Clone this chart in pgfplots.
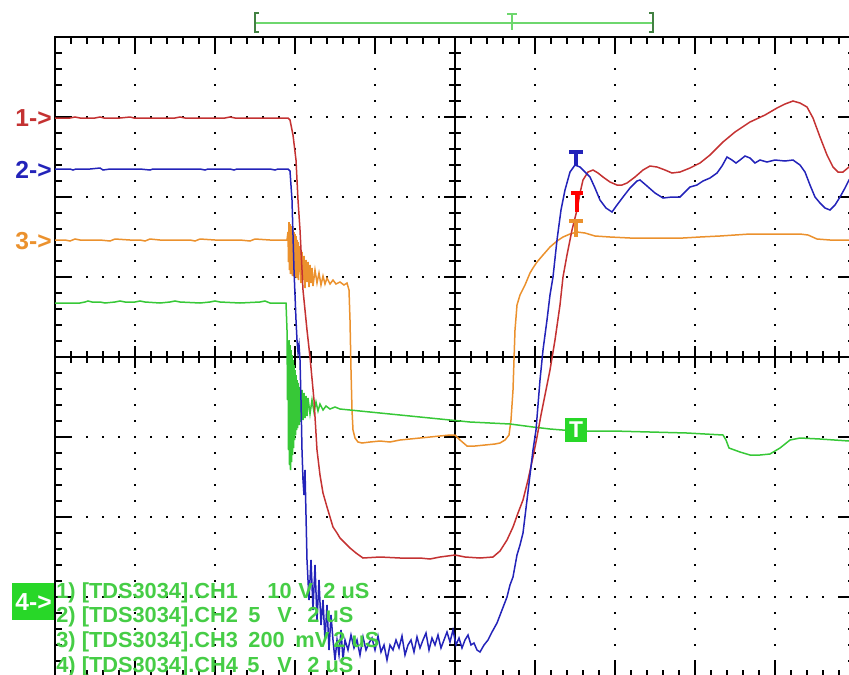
\documentclass[border=0pt]{standalone}
\usepackage{pgfplots}
\pgfplotsset{compat=1.18}
\usepackage{fontspec}
\setmainfont{Liberation Sans}
\definecolor{cRed}{RGB}{196,50,50}
\definecolor{cBlue}{RGB}{35,35,185}
\definecolor{cOrange}{RGB}{235,145,45}
\definecolor{cGreen}{RGB}{55,200,55}
\definecolor{cText}{RGB}{70,205,70}
\definecolor{cBox}{RGB}{40,215,40}
\definecolor{cTrig}{RGB}{110,215,110}
\begin{document}
\begin{tikzpicture}
\useasboundingbox (0,0) rectangle (16.98cm,13.48cm);
\clip (0,0) rectangle (16.98cm,13.48cm);
\begin{scope}[x=0.02cm,y=-0.02cm,yshift=13.48cm]
% grid dots
\foreach \yy in {117,197,277,437,517,597}{
  \foreach \k in {1,...,49}{ \fill ({55+16*\k-1},{\yy-1}) rectangle ++(2,2); } }
\foreach \xx in {135,215,295,375,535,615,695,775}{
  \foreach \k in {1,...,39}{ \fill ({\xx-1},{37+16*\k-1}) rectangle ++(2,2); } }
% border
\draw[line width=0.05cm] (55,37) rectangle (855,677);
% centre lines
\draw[line width=0.045cm] (455,37) -- (455,677);
\draw[line width=0.045cm] (55,357) -- (855,357);
% ticks
\foreach \k in {1,...,49}{
  \pgfmathsetmacro{\L}{ifthenelse(mod(\k,5)==0,16,7)}
  \pgfmathsetmacro{\C}{ifthenelse(mod(\k,5)==0,11,6)}
  \draw[line width=0.04cm] ({55+16*\k},37) -- ++(0,\L);
  \draw[line width=0.04cm] ({55+16*\k},677) -- ++(0,-\L);
  \draw[line width=0.04cm] ({55+16*\k},{357-\C}) -- ++(0,{2*\C});
}
\foreach \k in {1,...,39}{
  \pgfmathsetmacro{\L}{ifthenelse(mod(\k,5)==0,16,7)}
  \pgfmathsetmacro{\C}{ifthenelse(mod(\k,5)==0,11,6)}
  \draw[line width=0.04cm] (55,{37+16*\k}) -- ++(\L,0);
  \draw[line width=0.04cm] (855,{37+16*\k}) -- ++(-\L,0);
  \draw[line width=0.04cm] ({455-\C},{37+16*\k}) -- ++({2*\C},0);
}
\end{scope}
\begin{axis}[at={(1.1cm,-0.06cm)}, anchor=south west, scale only axis,
  width=16cm, height=12.8cm, xmin=55, xmax=855, ymin=37, ymax=677,
  y dir=reverse, hide axis]
% CH3 orange
\addplot[cOrange, line width=0.03cm] coordinates {
(55,240)(65,240)(70,241)(75,239)(80,240)(100,240)(110,241)(115,239)(130,240)(140,240)(145,241)(150,239)(160,240)(190,240)(195,241)(200,239)(215,240)(240,240)(250,241)(255,239)(270,240)(287,240)
(288,232)(288.5,262)(289,222)(289.5,270)(290,224)(290.5,274)(291,226)(291.5,272)(292,228)(292.5,276)(293,230)(293.5,270)(294,232)(294.5,277)(295,234)(295.5,272)(296,236)(296.5,278)(297,240)(297.5,270)(298,242)(298.5,280)(299,246)(299.5,272)(300,250)(301,283)(302,252)(303,280)(304,256)(305,288)(306,260)(307,282)(308,262)(309,287)(310,265)(311,283)(312,268)(313,286)(315,270)(317,283)(319,273)(321,285)(323,276)(325,284)(327,278)(330,284)(333,280)(336,284)(340,282)(344,285)(347,283)
(349,290)(350,320)(351,370)(352,410)(353,430)(355,438)(358,442)(362,443)(370,442)(380,441)(390,442)(400,440)(410,439)(420,438)(430,437)(440,436)(450,435)(455,435)(460,440)(467,446)(475,446)(485,445)(495,444)(500,443)(505,440)(509,435)(511,420)(512,405)(513,390)(514,360)(515,330)(517,305)(520,295)(525,285)(530,273)(533,268)(537,262)(543,255)(550,247)(557,241)(563,237)(570,234)(577,232)(585,233)(595,236)(610,237)(630,238)(650,238)(683,238)(700,237)(720,236)(750,234)(775,234)(800,234)(808,235)(817,239)(830,240)(849,240)(855,240)};
% CH4 green
\addplot[cGreen, line width=0.03cm] coordinates {
(55,303)(80,303)(85,302)(88,301)(92,302)(100,302)(105,303)(115,302)(120,301)(125,302)(135,302)(140,301)(145,302)(160,303)(170,302)(175,301)(180,302)(200,303)(210,302)(215,301)(220,302)(240,303)(260,302)(265,301)(270,303)(286,303)
(287,330)(287.5,400)(288,345)(288.5,450)(289,340)(289.5,465)(290,345)(290.5,470)(291,350)(291.5,462)(292,355)(292.5,455)(293,360)(293.5,448)(294,365)(294.5,440)(295,370)(295.5,435)(296,375)(296.5,430)(297,380)(297.5,428)(298,383)(299,425)(300,387)(301,422)(302,390)(303,420)(304,393)(305,418)(306,396)(307,416)(308,398)(310,414)(312,400)(314,412)(316,402)(318,411)(320,404)(323,410)(326,406)(330,409)(335,407)(340,409)
(350,410)(370,412)(390,414)(410,416)(430,418)(450,420)(470,422)(490,423)(510,424)(533,427)(550,429)(575,431)(613,431)(650,432)(687,433)(723,435)(726,440)(729,448)(740,452)(750,455)(760,455)(770,454)(780,448)(790,440)(800,438)(820,439)(849,441)(855,441)};
% CH1 red
\addplot[cRed, line width=0.03cm] coordinates {
(55,118)(70,118)(75,117)(80,118)(95,118)(100,117)(104,118)(120,118)(130,117)(134,118)(150,118)(175,118)(180,117)(185,118)(200,118)(225,118)(230,117)(235,118)(250,118)(280,118)(288,118)
(290,120)(293,135)(296,160)(298,200)(300,230)(303,290)(307,330)(310,357)(314,400)(317,450)(320,475)(323,493)(327,507)(330,517)(333,527)(337,533)(340,538)(345,543)(350,548)(356,553)(363,558)(380,557)(400,558)(420,558)(430,559)(440,557)(455,555)(465,557)(480,558)(493,557)(500,551)(507,540)(513,527)(518,513)(523,500)(528,480)(533,457)(537,437)(541,415)(545,395)(550,370)(555,340)(560,305)(563,277)(567,255)(572,230)(577,210)(580,193)(583,180)(588,172)(593,170)(598,173)(603,177)(610,182)(617,185)(622,185)(627,183)(635,177)(643,170)(650,166)(657,167)(665,170)(672,173)(680,172)(690,168)(700,163)(710,155)(723,142)(735,132)(750,122)(765,115)(777,108)(785,104)(793,101)(800,103)(807,107)(813,118)(820,137)(827,155)(833,167)(838,172)(843,172)(849,167)(855,160)};
% CH2 blue
\addplot[cBlue, line width=0.03cm] coordinates {
(55,169)(70,169)(73,170)(76,169)(90,169)(100,168)(103,170)(110,169)(140,169)(150,170)(153,169)(180,169)(200,169)(205,170)(208,169)(230,169)(234,170)(237,169)(270,169)(275,170)(278,169)(288,169)(290,171)
(292,200)(294,270)(296,320)(297,340)(298,352)(299,345)(300,360)(301,400)(302,450)(303,480)(304,495)(305,470)(307,560)(309,600)(311,560)(313,610)(315,565)(317,620)(319,580)(321,625)(323,600)(325,640)(327,605)(329,650)(331,615)(333,640)(335,660)(337,640)(339,655)(341,630)(343,660)(345,640)(348,650)(351,635)(354,648)(357,640)(360,655)(363,637)(366,650)(369,643)(372,638)(375,650)(378,636)(381,652)(384,645)(387,660)(390,645)(393,650)(396,640)(399,648)(402,636)(405,655)(408,645)(411,640)(414,652)(417,637)(420,648)(423,640)(426,633)(429,650)(432,638)(435,645)(438,635)(441,648)(444,640)(447,632)(450,642)(453,630)(456,645)(459,638)(462,648)(465,640)(468,635)(471,645)(474,643)(477,650)(480,652)(484,645)(488,640)(492,632)(497,623)(502,610)(507,597)(510,585)(513,577)(517,555)(520,545)(523,533)(527,500)(530,475)(533,450)(536,430)(540,380)(543,350)(547,320)(550,295)(553,277)(557,240)(561,210)(565,190)(570,172)(575,165)(580,167)(585,172)(590,177)(595,188)(600,200)(606,208)(612,212)(617,205)(623,197)(630,188)(637,181)(640,180)(647,186)(655,193)(663,198)(672,197)(680,197)(685,192)(690,187)(697,185)(703,181)(710,178)(717,173)(722,166)(727,157)(732,160)(736,163)(740,160)(745,156)(750,158)(755,163)(760,160)(767,162)(775,160)(785,161)(793,160)(800,165)(805,172)(810,185)(815,197)(820,203)(825,208)(830,210)(835,205)(840,197)(845,188)(849,180)(855,172)};
\end{axis}
\begin{scope}[x=0.02cm,y=-0.02cm,yshift=13.48cm]
% T markers
\draw[cBlue, line width=0.07cm] (569,152) -- (583,152) (576,152) -- (576,166);
\draw[red, line width=0.07cm] (571,193) -- (583,193) (577,193) -- (577,212);
\draw[cOrange, line width=0.07cm] (569,221) -- (583,221) (576,221) -- (576,237);
% green trigger box
\fill[cBox] (565,418) rectangle (587,442);
\node[white, font=\bfseries\fontsize{13}{13}\selectfont, inner sep=0] at (576,430) {T};
% top trigger bar
\draw[cTrig, line width=0.05cm] (255,23) -- (653,23);
\draw[cTrig!60!black, line width=0.04cm] (259,13) -- (255,13) -- (255,32) -- (259,32);
\draw[cTrig!60!black, line width=0.04cm] (649,13) -- (653,13) -- (653,32) -- (649,32);
\draw[cTrig, line width=0.04cm] (507,14) -- (517,14) (512,14) -- (512,30);
% channel labels
\node[cRed, anchor=east, inner sep=0, font=\bfseries\fontsize{14}{14}\selectfont] at (52,118) {1->};
\node[cBlue, anchor=east, inner sep=0, font=\bfseries\fontsize{14}{14}\selectfont] at (52,170) {2->};
\node[cOrange, anchor=east, inner sep=0, font=\bfseries\fontsize{14}{14}\selectfont] at (52,241) {3->};
\fill[cBox] (12,583) rectangle (54,620);
\node[white, anchor=east, inner sep=0, font=\bfseries\fontsize{14}{14}\selectfont] at (52,602) {4->};
% bottom text
\begin{scope}[every node/.style={cText, anchor=base west, inner sep=0, font=\bfseries\fontsize{12.4}{12.4}\selectfont}]
\node at (56,598) {1) [TDS3034].CH1}; \node at (267,598) {10}; \node at (298,598) {V}; \node at (323,598) {2 uS};
\node at (56,622) {2) [TDS3034].CH2}; \node at (248,622) {5}; \node at (277,622) {V}; \node at (307,622) {2 uS};
\node at (56,647) {3) [TDS3034].CH3}; \node at (248,647) {200}; \node at (295,647) {mV}; \node at (333,647) {2 uS};
\node at (56,672) {4) [TDS3034].CH4}; \node at (247,672) {5}; \node at (277,672) {V}; \node at (307,672) {2 uS};
\end{scope}
\end{scope}
\end{tikzpicture}
\end{document}
